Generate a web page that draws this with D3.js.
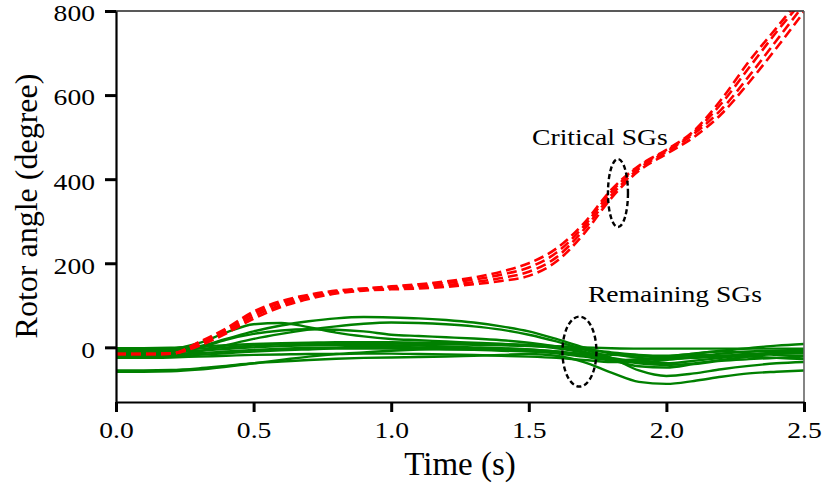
<!DOCTYPE html>
<html>
<head>
<meta charset="utf-8">
<script src="https://cdn.jsdelivr.net/npm/d3@7"></script>
<style>
  html, body { margin: 0; padding: 0; background: #fff; }
  svg { display: block; }
</style>
</head>
<body>
<div id="chart"></div>
<script>
// ── Data ───────────────────────────────────────
const TIME = [0,0.1,0.2,0.3,0.4,0.5,0.6,0.7,0.8,0.9,1.0,1.1,1.2,1.3,1.4,1.5,1.6,1.7,1.8,1.9,2.0,2.1,2.2,2.3,2.4,2.5];

// critical SGs (red dashed)
const RED_1 = [-16,-16,-15,12,45,85,110,125,135,140,145,150,157,166,180,200,235,295,375,432,470,515,590,680,760,840];
const RED_2 = [-16,-16,-15,9,41,80,106,122,133,139,143,147,153,161,173,190,225,288,370,430,468,512,580,665,750,828];
const RED_3 = [-16,-16,-15,6,37,74,101,119,130,137,140,143,148,155,165,180,214,280,362,425,465,508,566,645,730,815];
const RED_4 = [-16,-16,-15,3,33,68,96,115,128,135,138,140,144,150,158,170,204,270,355,420,460,500,555,630,712,798];

// remaining SGs (green)
const GREEN_1  = [-4,-4,-3,10,35,55,58,48,35,26,20,17,14,11,8,4,-2,-12,-25,-35,-38,-32,-25,-18,-12,-8];
const GREEN_2  = [-8,-8,-7,2,20,38,52,62,69,72,71,69,65,59,50,38,20,0,-15,-25,-28,-25,-20,-17,-15,-14];
const GREEN_3  = [-16,-16,-15,-2,18,32,40,43,42,38,30,27,24,21,17,11,2,-10,-30,-45,-48,-40,-32,-28,-25,-22];
const GREEN_4  = [-20,-20,-19,-10,5,20,32,42,50,56,59,58,55,50,42,30,14,-5,-25,-55,-68,-62,-52,-44,-38,-35];
const GREEN_5  = [-55,-55,-54,-50,-44,-38,-34,-30,-27,-25,-24,-23,-22,-20,-18,-16,-20,-35,-60,-82,-87,-80,-70,-62,-58,-55];
const GREEN_6  = [-58,-58,-57,-53,-46,-38,-30,-22,-16,-12,-8,-5,-3,-2,-3,-5,-10,-18,-28,-38,-42,-38,-30,-22,-14,-8];
const GREEN_7  = [-2,-2,-1,2,5,8,10,11,12,12,12,11,10,9,8,6,3,0,-2,-3,-3,-3,-3,-3,-3,-3];
const GREEN_8  = [-6,-6,-5,-3,0,4,7,9,10,10,9,8,7,6,5,3,0,-5,-12,-18,-20,-15,-8,-2,4,8];
const GREEN_9  = [-12,-12,-11,-8,-4,0,3,5,6,6,5,4,2,0,-2,-5,-10,-18,-28,-35,-30,-22,-15,-10,-8,-5];
const GREEN_10 = [-25,-25,-24,-22,-20,-18,-17,-16,-16,-15,-15,-16,-17,-18,-20,-22,-25,-30,-35,-32,-25,-18,-20,-22,-25,-28];
const GREEN_11 = [-22,-22,-21,-18,-14,-10,-7,-5,-3,-3,-3,-4,-5,-6,-8,-10,-12,-15,-18,-20,-22,-24,-22,-18,-12,-10];
const GREEN_12 = [-18,-18,-17,-14,-10,-6,-3,-1,0,1,1,0,-1,-2,-4,-8,-14,-22,-30,-28,-22,-15,-10,-14,-18,-20];

const X_TICKS = [0, 0.5, 1.0, 1.5, 2.0, 2.5];
const Y_TICKS = [0, 200, 400, 600, 800];

// annotations: text anchor and ellipse centre in data units
const NOTE_TEXT = ["Critical SGs", "Remaining SGs"];
const NOTE_T    = [1.512, 1.715];
const NOTE_V    = [481, 109];
const RING_T    = [1.824, 1.684];
const RING_V    = [367, -10];

(function () {
  const W = 827, H = 487;
  const margin = { top: 11, right: 23, bottom: 85, left: 116 };
  const FONT = "'Liberation Serif','Times New Roman',serif";

  const svg = d3.select("#chart").append("svg")
    .attr("width", W).attr("height", H);

  const x = d3.scaleLinear().domain([0, 2.5]).range([margin.left, W - margin.right]);
  const y = d3.scaleLinear().domain([-130, 800]).range([H - margin.bottom, margin.top]);

  svg.append("defs").append("clipPath").attr("id", "plot-clip")
    .append("rect")
    .attr("x", x(0)).attr("y", y(800))
    .attr("width", x(2.5) - x(0)).attr("height", y(-130) - y(800));

  const line = d3.line()
    .x((d, i) => x(TIME[i]))
    .y(d => y(d))
    .curve(d3.curveMonotoneX);

  const plot = svg.append("g").attr("clip-path", "url(#plot-clip)");

  // Green curves
  const greens = [GREEN_1, GREEN_2, GREEN_3, GREEN_4, GREEN_5, GREEN_6,
                  GREEN_7, GREEN_8, GREEN_9, GREEN_10, GREEN_11, GREEN_12];
  plot.selectAll(".g-line").data(greens).join("path")
    .attr("class", "g-line")
    .attr("d", line)
    .attr("fill", "none")
    .attr("stroke", "#008000")
    .attr("stroke-width", 2.4);

  // Red dashed curves
  const reds = [RED_1, RED_2, RED_3, RED_4];
  plot.selectAll(".r-line").data(reds).join("path")
    .attr("class", "r-line")
    .attr("d", line)
    .attr("fill", "none")
    .attr("stroke", "#ff0000")
    .attr("stroke-width", 2.6)
    .attr("stroke-dasharray", "10,5");

  // Frame (top / right)
  svg.append("line")
    .attr("x1", x(0)).attr("x2", x(2.5)).attr("y1", y(800)).attr("y2", y(800))
    .attr("stroke", "#222").attr("stroke-width", 1.4);
  svg.append("line")
    .attr("x1", x(2.5)).attr("x2", x(2.5)).attr("y1", y(800)).attr("y2", y(-130))
    .attr("stroke", "#666").attr("stroke-width", 1.6);

  // X axis
  const xAxis = svg.append("g")
    .attr("transform", `translate(0,${y(-130)})`)
    .call(d3.axisBottom(x).tickValues(X_TICKS).tickSize(10).tickSizeOuter(0)
      .tickFormat(d3.format(".1f")));
  xAxis.select(".domain").attr("stroke", "#000").attr("stroke-width", 2.2);
  xAxis.selectAll(".tick line").attr("stroke", "#000").attr("stroke-width", 3);
  xAxis.selectAll("text")
    .attr("font-family", FONT).attr("font-size", "24px").attr("fill", "#000")
    .attr("y", 36).attr("dy", 0)
    .attr("transform", "scale(1.15,1)");

  // Y axis
  const yAxis = svg.append("g")
    .attr("transform", `translate(${x(0)},0)`)
    .call(d3.axisLeft(y).tickValues(Y_TICKS).tickSize(11).tickSizeOuter(0)
      .tickPadding(10));
  yAxis.select(".domain").attr("stroke", "#000").attr("stroke-width", 2.2);
  yAxis.selectAll(".tick line").attr("stroke", "#000").attr("stroke-width", 3);
  yAxis.selectAll("text")
    .attr("font-family", FONT).attr("font-size", "23px").attr("fill", "#000")
    .attr("x", 0).attr("dy", "0.43em")
    .attr("transform", "translate(-21,0) scale(1.2,1)");

  // Axis titles
  svg.append("text")
    .attr("x", (x(0) + x(2.5)) / 2).attr("y", 475)
    .attr("text-anchor", "middle")
    .attr("font-family", FONT).attr("font-size", "33px").attr("fill", "#000")
    .text("Time (s)");
  svg.append("text")
    .attr("transform", "translate(37,206) rotate(-90)")
    .attr("text-anchor", "middle")
    .attr("font-family", FONT).attr("font-size", "32px").attr("fill", "#000")
    .text("Rotor angle (degree)");

  // Annotations
  NOTE_TEXT.forEach((txt, i) => {
    svg.append("text")
      .attr("transform", `translate(${x(NOTE_T[i])},${y(NOTE_V[i])}) scale(1.2,1)`)
      .attr("font-family", FONT).attr("font-size", "23px").attr("fill", "#000")
      .text(txt);
  });
  const ringR = [[10, 34], [17, 35]];
  RING_T.forEach((t, i) => {
    svg.append("ellipse")
      .attr("cx", x(t)).attr("cy", y(RING_V[i]))
      .attr("rx", ringR[i][0]).attr("ry", ringR[i][1])
      .attr("fill", "none").attr("stroke", "#000")
      .attr("stroke-width", 2.4).attr("stroke-dasharray", "5,3");
  });
})();
</script>
</body>
</html>
